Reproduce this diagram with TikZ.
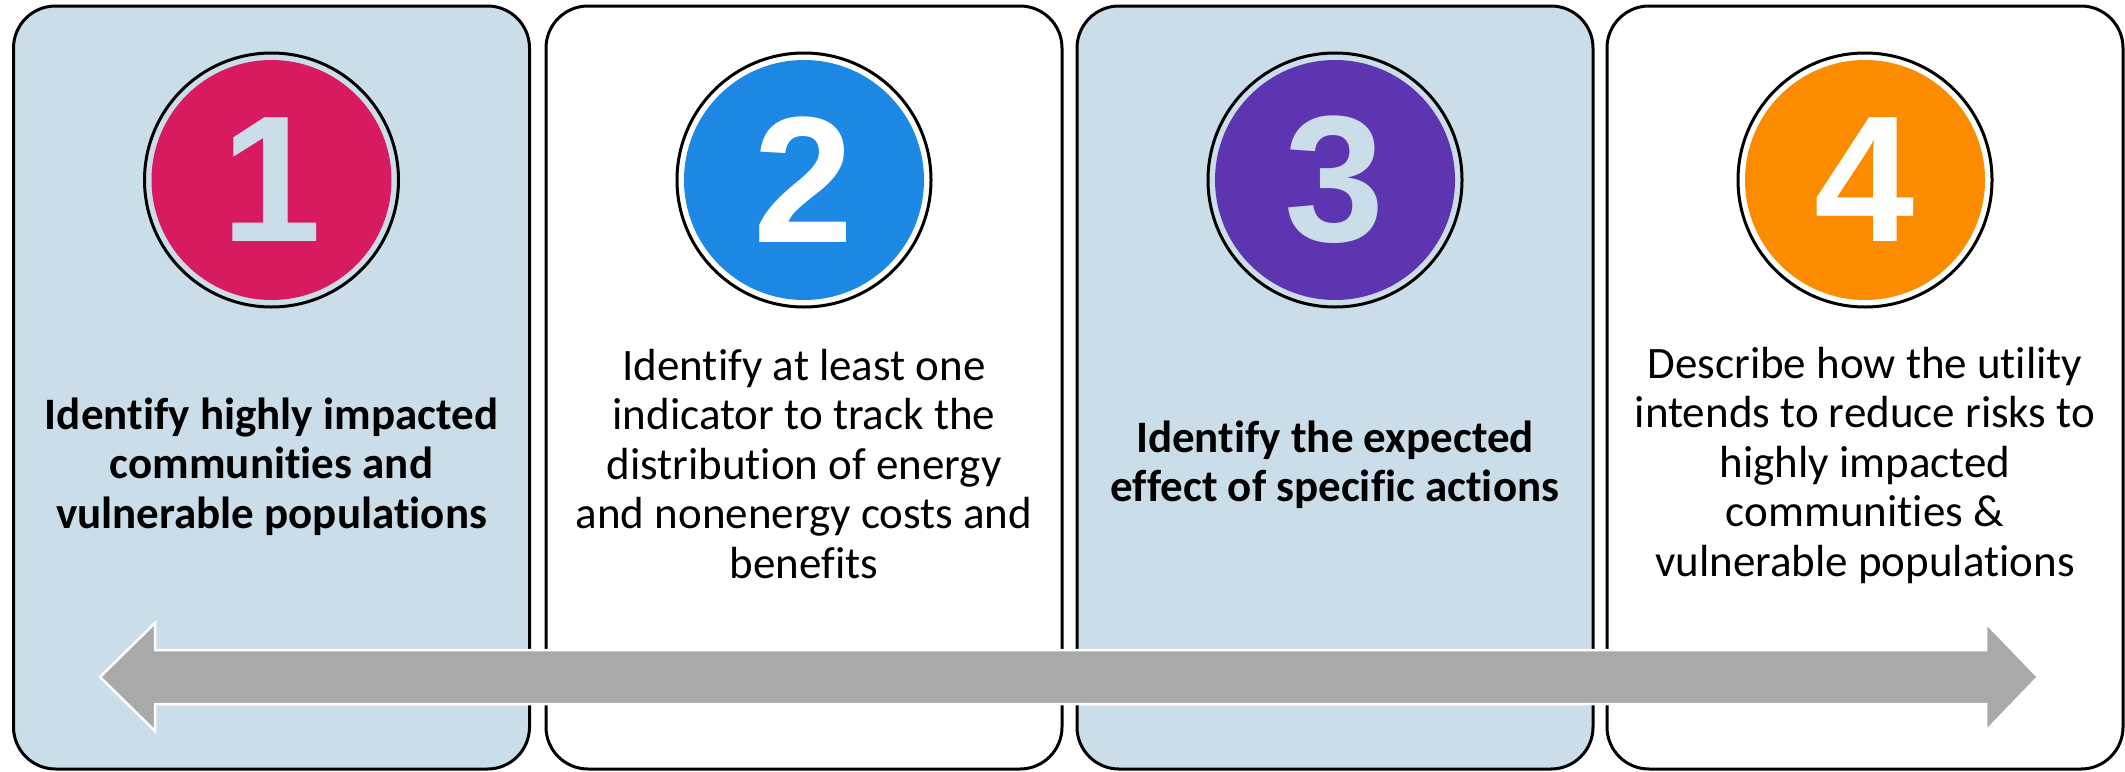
\documentclass[tikz,border=0pt]{standalone}
\usepackage{fontspec}
\setmainfont{Carlito}[Ligatures=NoCommon]
\newfontfamily\digitfont{Liberation Sans}
\definecolor{boxblue}{RGB}{203,221,232}
\definecolor{arrowgray}{RGB}{169,169,169}
\definecolor{cone}{RGB}{216,27,96}
\definecolor{ctwo}{RGB}{30,136,229}
\definecolor{cthree}{RGB}{94,53,177}
\definecolor{cfour}{RGB}{251,140,0}
\newcommand{\topstrut}{\rule{0pt}{40pt}}
\begin{document}
\begin{tikzpicture}[x=1pt,y=-1pt,
  panel/.style={draw=black,line width=3pt,rounded corners=42pt,rectangle,
    minimum width=516pt,minimum height=763pt,inner sep=0pt},
  disc/.style={circle,draw=none,minimum size=240pt,inner sep=0pt},
  ring/.style={circle,draw=black,line width=3pt,minimum size=254pt,inner sep=0pt},
  digit/.style={font=\digitfont\bfseries\fontsize{180}{180}\selectfont,inner sep=0pt,anchor=center},
  steptext/.style={font=\fontsize{45}{49.5}\selectfont,align=center,inner sep=0pt,anchor=north},
  blockarrow/.style={fill=arrowgray,draw=white,line width=2.5pt,line join=miter}]
\useasboundingbox (0,0) rectangle (2125,771);
\fill[white] (0,0) rectangle (2125,771);

% panels
\node[panel,fill=boxblue] (p1) at (271.5,387.5) {};
\node[panel,fill=white]   (p2) at (804,387.5) {};
\node[panel,fill=boxblue] (p3) at (1335,387.5) {};
\node[panel,fill=white]   (p4) at (1865,387.5) {};

% numbered discs
\node[ring] (r1) at (271.5,180) {};
\node[disc,fill=cone] (c1) at (r1.center) {};
\node[digit,text=boxblue] (d1) at (c1.center) {1};

\node[ring] (r2) at (804,180) {};
\node[disc,fill=ctwo] (c2) at (r2.center) {};
\node[digit,text=white] (d2) at (c2.center) {2};

\node[ring] (r3) at (1335,180) {};
\node[disc,fill=cthree] (c3) at (r3.center) {};
\node[digit,text=boxblue] (d3) at (c3.center) {3};

\node[ring] (r4) at (1865,180) {};
\node[disc,fill=cfour] (c4) at (r4.center) {};
\node[digit,text=white] (d4) at (c4.center) {4};

% texts
\node[steptext,font=\bfseries\fontsize{45}{49.5}\selectfont] (t1) at (271.5,389)
  {\topstrut Identify highly impacted\\communities and\\vulnerable populations};
\node[steptext] (t2) at (804,340)
  {\topstrut Identify at least one\\indicator to track the\\distribution of energy\\and nonenergy costs and\\benefits};
\node[steptext,font=\bfseries\fontsize{45}{49.5}\selectfont] (t3) at (1335,412)
  {\topstrut Identify the expected\\effect of specific actions};
\node[steptext] (t4) at (1865,338)
  {\topstrut Describe how the utility\\intends to reduce risks to\\highly impacted\\communities \&\\vulnerable populations};

% double block arrow
\filldraw[blockarrow] (100,677) -- (155,623) -- (155,650) -- (1986,650) -- (1986,623)
  -- (2038,677) -- (1986,731) -- (1986,704) -- (155,704) -- (155,731) -- cycle;
\end{tikzpicture}
\end{document}
